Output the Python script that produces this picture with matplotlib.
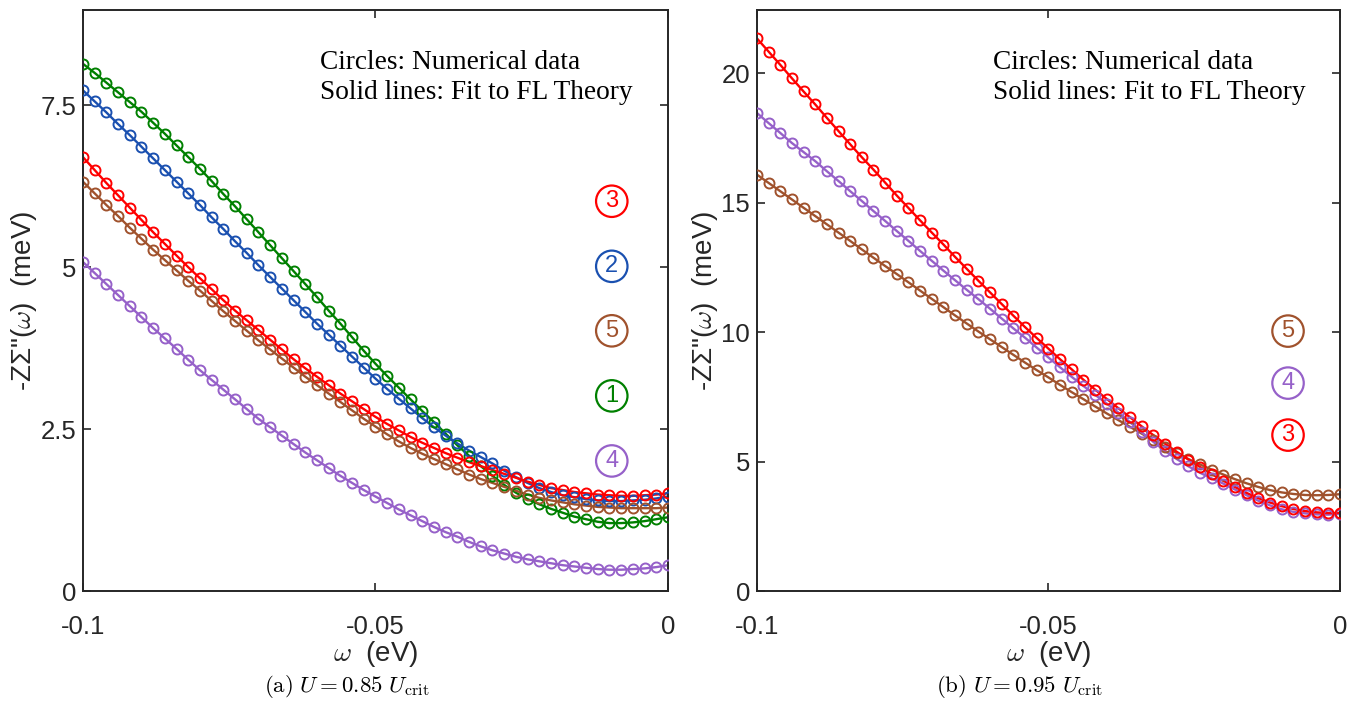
import numpy as np
import matplotlib
matplotlib.use("Agg")
import matplotlib.pyplot as plt

plt.rcParams['font.family'] = ['Liberation Sans', 'DejaVu Sans']
plt.rcParams['mathtext.fontset'] = 'cm'

# frequency grid (eV), 51 points from -0.1 to 0
omega = np.linspace(-0.1, 0.0, 51)

# panel (a): U = 0.85 U_crit, -Z Sigma''(omega) in meV
a_green = [8.14, 8.00, 7.85, 7.70, 7.55, 7.40, 7.23, 7.06, 6.88, 6.70,
           6.52, 6.33, 6.13, 5.94, 5.74, 5.54, 5.34, 5.14, 4.94, 4.74,
           4.54, 4.33, 4.13, 3.92, 3.71, 3.51, 3.32, 3.14, 2.96, 2.78,
           2.61, 2.43, 2.25, 2.09, 1.93, 1.78, 1.64, 1.52, 1.42, 1.34,
           1.27, 1.21, 1.15, 1.11, 1.07, 1.05, 1.05, 1.06, 1.08, 1.11, 1.14]
a_blue = [7.73, 7.56, 7.39, 7.21, 7.04, 6.86, 6.68, 6.50, 6.32, 6.14,
          5.96, 5.77, 5.59, 5.40, 5.22, 5.03, 4.85, 4.67, 4.49, 4.31,
          4.13, 3.96, 3.79, 3.62, 3.45, 3.28, 3.12, 2.97, 2.82, 2.67,
          2.53, 2.40, 2.28, 2.17, 2.07, 1.97, 1.86, 1.76, 1.67, 1.59,
          1.53, 1.48, 1.45, 1.42, 1.40, 1.39, 1.39, 1.40, 1.41, 1.43, 1.46]
a_red = [6.70, 6.50, 6.30, 6.11, 5.92, 5.73, 5.54, 5.36, 5.18, 5.00,
         4.83, 4.66, 4.49, 4.33, 4.18, 4.03, 3.88, 3.73, 3.58, 3.44,
         3.31, 3.18, 3.05, 2.93, 2.81, 2.69, 2.58, 2.48, 2.38, 2.29,
         2.21, 2.13, 2.06, 1.99, 1.93, 1.87, 1.81, 1.75, 1.69, 1.64,
         1.59, 1.56, 1.53, 1.51, 1.49, 1.48, 1.47, 1.47, 1.48, 1.49, 1.51]
a_brown = [6.32, 6.14, 5.96, 5.79, 5.61, 5.44, 5.27, 5.11, 4.95, 4.79,
           4.64, 4.48, 4.32, 4.17, 4.02, 3.87, 3.73, 3.59, 3.45, 3.31,
           3.18, 3.05, 2.92, 2.79, 2.66, 2.54, 2.42, 2.31, 2.21, 2.12,
           2.04, 1.96, 1.88, 1.80, 1.73, 1.67, 1.61, 1.55, 1.49, 1.44,
           1.40, 1.37, 1.34, 1.32, 1.30, 1.29, 1.28, 1.28, 1.28, 1.28, 1.29]
a_purple = [5.08, 4.91, 4.74, 4.57, 4.40, 4.23, 4.06, 3.90, 3.74, 3.57,
            3.41, 3.26, 3.11, 2.96, 2.81, 2.66, 2.53, 2.40, 2.27, 2.14,
            2.02, 1.90, 1.78, 1.67, 1.56, 1.46, 1.36, 1.26, 1.17, 1.08,
            0.99, 0.91, 0.84, 0.76, 0.69, 0.63, 0.58, 0.53, 0.49, 0.46,
            0.43, 0.40, 0.38, 0.36, 0.34, 0.33, 0.33, 0.34, 0.35, 0.37, 0.40]

# panel (b): U = 0.95 U_crit
b_red = [21.34, 20.83, 20.32, 19.80, 19.29, 18.79, 18.27, 17.76, 17.25, 16.75,
         16.27, 15.77, 15.27, 14.79, 14.31, 13.84, 13.38, 12.90, 12.44, 11.98,
         11.53, 11.08, 10.63, 10.19, 9.77, 9.36, 8.95, 8.56, 8.16, 7.78,
         7.42, 7.06, 6.71, 6.36, 6.02, 5.69, 5.38, 5.08, 4.79, 4.52,
         4.26, 4.02, 3.79, 3.59, 3.42, 3.28, 3.17, 3.09, 3.04, 3.01, 3.02]
b_purple = [18.46, 18.07, 17.69, 17.30, 16.95, 16.60, 16.21, 15.83, 15.44, 15.06,
            14.67, 14.29, 13.90, 13.52, 13.13, 12.75, 12.37, 12.00, 11.63, 11.27,
            10.90, 10.52, 10.14, 9.78, 9.40, 9.02, 8.64, 8.27, 7.92, 7.58,
            7.24, 6.89, 6.52, 6.13, 5.76, 5.41, 5.10, 4.82, 4.57, 4.35,
            4.15, 3.92, 3.70, 3.49, 3.31, 3.16, 3.06, 3.00, 2.96, 2.95, 2.98]
b_brown = [16.08, 15.76, 15.44, 15.12, 14.80, 14.48, 14.16, 13.84, 13.52, 13.19,
           12.87, 12.55, 12.24, 11.92, 11.60, 11.28, 10.96, 10.64, 10.33, 10.02,
           9.72, 9.42, 9.12, 8.82, 8.53, 8.25, 7.96, 7.68, 7.41, 7.13,
           6.86, 6.60, 6.34, 6.08, 5.82, 5.57, 5.33, 5.10, 4.89, 4.69,
           4.50, 4.32, 4.16, 4.02, 3.90, 3.81, 3.75, 3.71, 3.70, 3.71, 3.74]

GREEN = '#008000'
BLUE = '#1a50b0'
RED = '#ff0000'
BROWN = '#a0522d'
PURPLE = '#9661c9'

a_series = [(a_green, GREEN), (a_blue, BLUE), (a_red, RED), (a_brown, BROWN), (a_purple, PURPLE)]
b_series = [(b_brown, BROWN), (b_purple, PURPLE), (b_red, RED)]

# circled curve numbers: (label, color, y position in axes fraction)
a_tags = [('3', RED, 0.671), ('2', BLUE, 0.559), ('5', BROWN, 0.448),
          ('1', GREEN, 0.336), ('4', PURPLE, 0.224)]
b_tags = [('5', BROWN, 0.4475), ('4', PURPLE, 0.358), ('3', RED, 0.2685)]

a_yticks = [0, 2.5, 5, 7.5]
a_ytick_labels = ['0', '2.5', '5', '7.5']
b_yticks = [0, 5, 10, 15, 20]
b_ytick_labels = ['0', '5', '10', '15', '20']
xticks = [-0.1, -0.05, 0]
xtick_labels = ['-0.1', '-0.05', '0']

fig = plt.figure(figsize=(13.54, 7.02), dpi=100)
ax_a = fig.add_axes([0.0613, 0.158, 0.432, 0.8276])
ax_b = fig.add_axes([0.559, 0.158, 0.4306, 0.8276])


def draw_panel(ax, series, tags, ylim, yticks, ylabels, tag_x, caption):
    for vals, col in series:
        ax.plot(omega, vals, '-', color=col, lw=1.7, zorder=2)
        ax.plot(omega, vals, 'o', color=col, mfc='none', ms=7.2, mew=1.4, zorder=3)
    ax.set_xlim(-0.1, 0)
    ax.set_ylim(*ylim)
    ax.set_xticks(xticks)
    ax.set_xticklabels(xtick_labels)
    ax.set_yticks(yticks)
    ax.set_yticklabels(ylabels)
    ax.tick_params(direction='in', length=6, width=1.2, colors='#262626',
                   labelsize=18.5, top=True, right=True)
    ax.tick_params(axis='x', pad=17)
    ax.tick_params(axis='y', pad=5)
    for s in ax.spines.values():
        s.set_linewidth(1.4)
        s.set_color('#262626')
    ax.set_xlabel(r'$\omega$  (eV)', fontsize=20, color='#262626', labelpad=0)
    ax.set_ylabel('-Z\u03a3"(' + r'$\omega$' + ')  (meV)', fontsize=20,
                  color='#262626', labelpad=1)
    ax.text(0.405, 0.91, 'Circles: Numerical data', transform=ax.transAxes,
            family='Liberation Serif', fontsize=19.7, va='center', ha='left')
    ax.text(0.405, 0.859, 'Solid lines: Fit to FL Theory', transform=ax.transAxes,
            family='Liberation Serif', fontsize=19.7, va='center', ha='left')
    for num, col, ty in tags:
        ax.text(tag_x, ty, num, transform=ax.transAxes, color=col, fontsize=17,
                ha='center', va='center',
                bbox=dict(boxstyle='circle,pad=0.2', fc='none', ec=col, lw=1.6))
    ax.text(0.451, -0.165, caption, transform=ax.transAxes, ha='center', va='center',
            fontsize=16.5)


draw_panel(ax_a, a_series, a_tags, (0, 8.97), a_yticks, a_ytick_labels, 0.904,
           r'$\mathrm{(a)}\ U = 0.85\ U_{\mathrm{crit}}$')
draw_panel(ax_b, b_series, b_tags, (0, 22.43), b_yticks, b_ytick_labels, 0.911,
           r'$\mathrm{(b)}\ U = 0.95\ U_{\mathrm{crit}}$')

fig.savefig('out.png', dpi=100)
